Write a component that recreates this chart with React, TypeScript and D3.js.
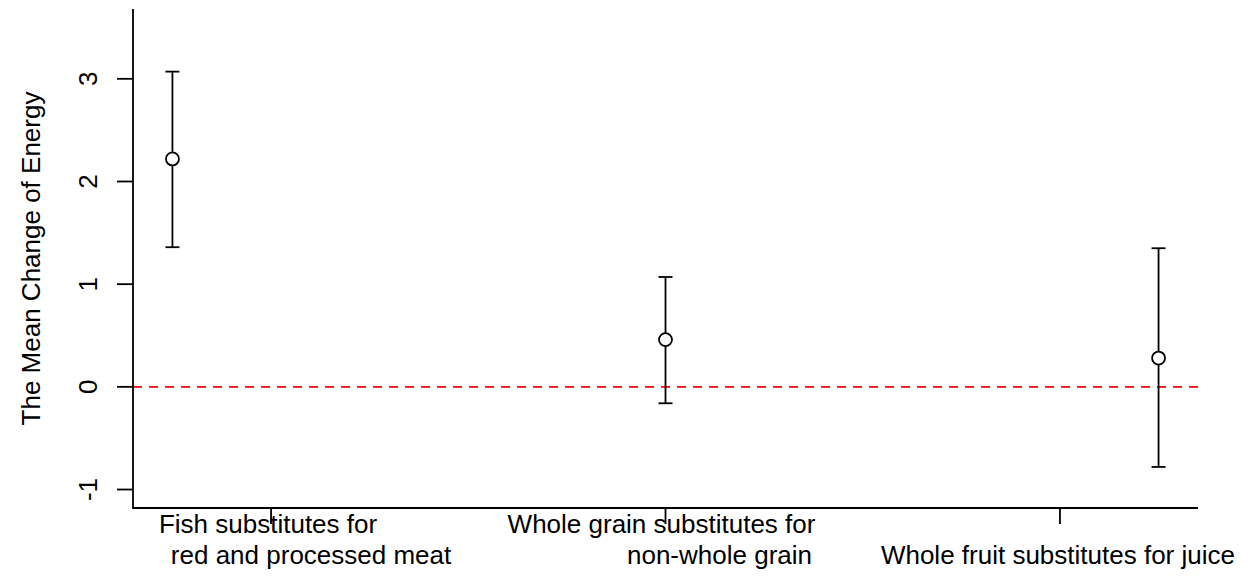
import * as d3 from "d3";
import {useEffect, useRef} from "react";

// point estimates and their intervals, at x = 1, 2, 3
const positions = [1, 2, 3];
const means = [2.22, 0.46, 0.28];
const lower = [1.36, -0.16, -0.78];
const upper = [3.07, 1.07, 1.35];

const yTicks = [-1, 0, 1, 2, 3];
const xTicks = [1.2, 2, 2.8];
// each x label is drawn as two lines under its tick
const xLabelLines = [
    ["Fish substitutes for", "red and processed meat"],
    ["Whole grain substitutes for", "non-whole grain"],
    ["", "Whole fruit substitutes for juice"],
];
const xLabelShift = [[-3, 40], [-4, 54], [0, -2]];

const W = 1252;
const H = 576;
const FONT = "'Liberation Sans', Arial, Helvetica, sans-serif";

const App = () => {
    const ref = useRef(null);

    useEffect(() => {
        const svg = d3.select(ref.current);
        svg.selectAll("*").remove();

        const left = 133, right = 1198, top = 9, bottom = 508;

        // R style limits: data range padded by 4% each side
        const x = d3.scaleLinear().domain([0.92, 3.08]).range([left, right]);
        const y = d3.scaleLinear().domain([-1.18, 3.68]).range([bottom, top]);

        // zero reference line
        svg.append("line")
            .attr("x1", left).attr("x2", right)
            .attr("y1", y(0)).attr("y2", y(0))
            .attr("stroke", "#ff0000")
            .attr("stroke-width", 1.6)
            .attr("stroke-dasharray", "9,7");

        // L shaped box
        svg.append("path")
            .attr("d", `M${left},${top}V${bottom}H${right}`)
            .attr("fill", "none")
            .attr("stroke", "#000")
            .attr("stroke-width", 1.8);

        // y axis
        const yg = svg.append("g");
        yg.selectAll("line").data(yTicks).enter().append("line")
            .attr("x1", left - 16).attr("x2", left)
            .attr("y1", d => y(d)).attr("y2", d => y(d))
            .attr("stroke", "#000").attr("stroke-width", 1.8);
        yg.selectAll("text").data(yTicks).enter().append("text")
            .attr("transform", d => `translate(97,${y(d)}) rotate(-90)`)
            .attr("text-anchor", "middle")
            .style("font-family", FONT)
            .style("font-size", "26px")
            .text(d => d);

        svg.append("text")
            .attr("transform", `translate(40,${(top + bottom) / 2}) rotate(-90)`)
            .attr("text-anchor", "middle")
            .style("font-family", FONT)
            .style("font-size", "26px")
            .text("The Mean Change of Energy");

        // x axis
        const xg = svg.append("g");
        xg.selectAll("line").data(xTicks).enter().append("line")
            .attr("x1", d => x(d)).attr("x2", d => x(d))
            .attr("y1", bottom).attr("y2", bottom + 16)
            .attr("stroke", "#000").attr("stroke-width", 1.8);
        xTicks.forEach((t, i) => {
            xLabelLines[i].forEach((line, j) => {
                if (!line) return;
                svg.append("text")
                    .attr("x", x(t) + xLabelShift[i][j])
                    .attr("y", 533 + j * 31)
                    .attr("text-anchor", "middle")
                    .style("font-family", FONT)
                    .style("font-size", "26px")
                    .text(line);
            });
        });

        // error bars
        const bars = svg.append("g").attr("stroke", "#000").attr("stroke-width", 1.8).attr("fill", "none");
        positions.forEach((p, i) => {
            const cx = x(p);
            bars.append("line")
                .attr("x1", cx).attr("x2", cx)
                .attr("y1", y(lower[i])).attr("y2", y(upper[i]));
            bars.append("line")
                .attr("x1", cx - 7).attr("x2", cx + 7)
                .attr("y1", y(upper[i])).attr("y2", y(upper[i]));
            bars.append("line")
                .attr("x1", cx - 7).attr("x2", cx + 7)
                .attr("y1", y(lower[i])).attr("y2", y(lower[i]));
        });

        svg.selectAll(".pt").data(positions).enter().append("circle")
            .attr("cx", d => x(d))
            .attr("cy", (d, i) => y(means[i]))
            .attr("r", 6.5)
            .attr("fill", "#fff")
            .attr("stroke", "#000")
            .attr("stroke-width", 1.8);
    }, []);

    return (
        <svg ref={ref} width={W} height={H}
             style={{position: "absolute", left: 0, top: 0, background: "#fff"}}></svg>
    );
};

export default App;
